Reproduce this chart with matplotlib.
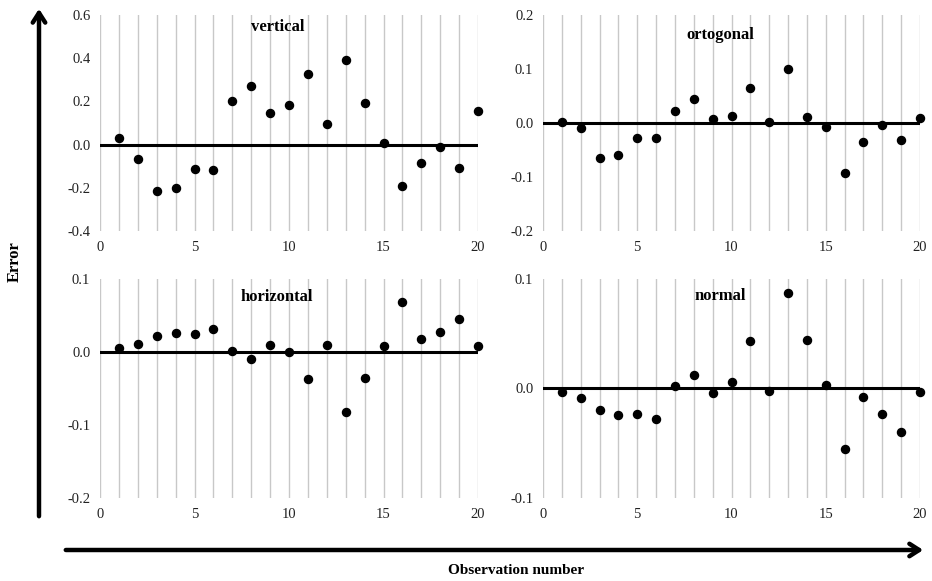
import matplotlib
matplotlib.use("Agg")
import matplotlib.pyplot as plt

plt.rcParams['font.family'] = ['Liberation Serif', 'DejaVu Serif']

obs = list(range(1, 21))
vertical = [0.03, -0.068, -0.215, -0.203, -0.114, -0.118, 0.204, 0.273, 0.144, 0.184,
            0.329, 0.094, 0.392, 0.193, 0.009, -0.19, -0.085, -0.009, -0.11, 0.157]
ortogonal = [0.001, -0.009, -0.065, -0.060, -0.027, -0.028, 0.022, 0.044, 0.007, 0.013,
             0.065, 0.001, 0.100, 0.011, -0.008, -0.093, -0.036, -0.004, -0.031, 0.009]
horizontal = [0.005, 0.011, 0.022, 0.026, 0.024, 0.031, 0.002, -0.009, 0.009, 0.000,
              -0.037, 0.009, -0.082, -0.036, 0.008, 0.068, 0.018, 0.028, 0.045, 0.008]
normal = [-0.003, -0.009, -0.020, -0.024, -0.023, -0.028, 0.002, 0.012, -0.004, 0.006,
          0.043, -0.002, 0.087, 0.044, 0.003, -0.055, -0.008, -0.023, -0.040, -0.003]

x_ticks = [0, 5, 10, 15, 20]
panels = [
    ("vertical", vertical, [-0.4, -0.2, 0.0, 0.2, 0.4, 0.6], ["-0.4", "-0.2", "0.0", "0.2", "0.4", "0.6"]),
    ("ortogonal", ortogonal, [-0.2, -0.1, 0.0, 0.1, 0.2], ["-0.2", "-0.1", "0.0", "0.1", "0.2"]),
    ("horizontal", horizontal, [-0.2, -0.1, 0.0, 0.1], ["-0.2", "-0.1", "0.0", "0.1"]),
    ("normal", normal, [-0.1, 0.0, 0.1], ["-0.1", "0.0", "0.1"]),
]

W, H = 932, 581
fig = plt.figure(figsize=(W / 100, H / 100), dpi=100)

# axes boxes in pixel coords (left, top, right, bottom)
boxes = [(100, 15, 478, 231), (543, 15, 920, 231), (100, 279, 478, 498), (543, 279, 920, 498)]
title_pos = [(0.471, 0.944), (0.471, 0.907), (0.467, 0.919), (0.470, 0.924)]

for (name, vals, yt, ytl), (l, t, r, b), (tx, ty) in zip(panels, boxes, title_pos):
    ax = fig.add_axes([l / W, 1 - b / H, (r - l) / W, (b - t) / H])
    ax.set_xlim(0, 20)
    ax.set_ylim(yt[0], yt[-1])
    ax.set_xticks(x_ticks)
    ax.set_xticks(range(0, 21), minor=True)
    ax.set_yticks(yt)
    ax.set_yticklabels(ytl)
    ax.grid(True, axis='x', which='both', color='#c8c8c8', lw=1.0)
    ax.set_axisbelow(True)
    for s in ax.spines.values():
        s.set_visible(False)
    ax.tick_params(which='both', length=0, labelsize=10.5, colors='#222222')
    ax.tick_params(axis='y', pad=7)
    ax.tick_params(axis='x', pad=7.5)
    ax.axhline(0, color='black', lw=2.2, zorder=2)
    ax.plot(obs, vals, 'o', color='black', ms=5.8, zorder=3, clip_on=False)
    ax.text(tx, ty, name, transform=ax.transAxes, ha='center', va='center',
            fontsize=12, fontweight='bold')

# big arrows and axis labels
ax0 = fig.add_axes([0, 0, 1, 1], facecolor='none')
ax0.set_xlim(0, W)
ax0.set_ylim(H, 0)
ax0.axis('off')
ax0.annotate('', xy=(39, 6), xytext=(39, 519),
             arrowprops=dict(arrowstyle='->,head_length=0.7,head_width=0.45', lw=3.2, color='black'))
ax0.annotate('', xy=(926, 550), xytext=(63, 550),
             arrowprops=dict(arrowstyle='->,head_length=0.7,head_width=0.45', lw=3.2, color='black'))
ax0.text(15, 262, 'Error', rotation=90, ha='center', va='center', fontsize=12, fontweight='bold')
ax0.text(516, 571, 'Observation number', ha='center', va='center', fontsize=11, fontweight='bold')

fig.savefig('out.png', dpi=100)
